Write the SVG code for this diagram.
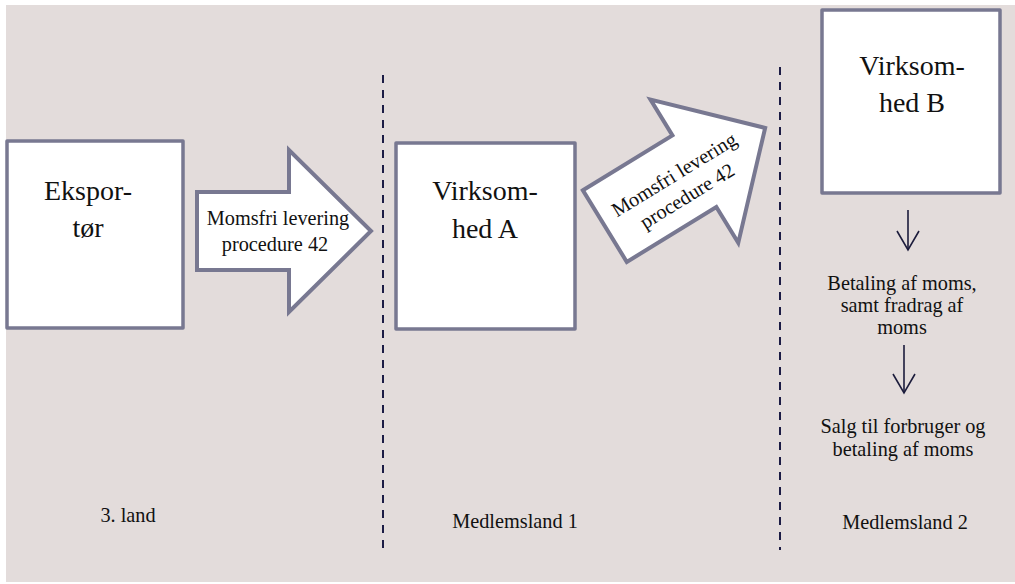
<svg xmlns="http://www.w3.org/2000/svg" width="1015" height="584" viewBox="0 0 1015 584">
<defs>
<style>
.box{fill:#ffffff;stroke:#787891;stroke-width:3.5;stroke-linejoin:round}
.arr{fill:#ffffff;stroke:#787891;stroke-width:4;stroke-linejoin:miter}
.big{font-family:'Liberation Serif','DejaVu Serif',serif;font-size:28px;fill:#111;text-anchor:middle}
.sm{font-family:'Liberation Serif','DejaVu Serif',serif;font-size:20.3px;fill:#111;text-anchor:middle}
.dash{stroke:#1c1c45;stroke-width:2;stroke-dasharray:8 7;fill:none}
.down{stroke:#1c1c3c;stroke-width:1.6;fill:none}
</style>
</defs>
<rect x="6" y="5" width="1009" height="577" fill="#e3dcdb"/>
<g id="connectors">
<line class="dash" x1="383" y1="75" x2="383" y2="548"/>
<line class="dash" x1="780" y1="67" x2="780" y2="550"/>
<line class="down" x1="908" y1="210" x2="908" y2="250"/>
<polyline class="down" points="897,231 908,250 919,231"/>
<line class="down" x1="904" y1="345" x2="904" y2="393"/>
<polyline class="down" points="893,374 904,393 915,374"/>
</g>
<g id="eksportor">
<rect class="box" x="7" y="141" width="176" height="187"/>
<text class="big" x="88" y="200">Ekspor-</text>
<text class="big" x="88" y="237">tør</text>
</g>
<g id="arrow1">
<polygon class="arr" points="197,192 289,192 289,150 371,231 289,312 289,270 197,270"/>
<text class="sm" x="278" y="225">Momsfri levering</text>
<text class="sm" x="275" y="251">procedure 42</text>
</g>
<g id="virksomhedA">
<rect class="box" x="396" y="143" width="179" height="186"/>
<text class="big" x="485" y="200">Virksom-</text>
<text class="big" x="485" y="238">hed A</text>
</g>
<g id="arrow2" transform="translate(685,177) rotate(-31.5)">
<polygon class="arr" points="-94,-42 11,-42 11,-84 94,0 11,84 11,42 -94,42"/>
<text class="sm" x="-8" y="-1">Momsfri levering</text>
<text class="sm" x="-8" y="24">procedure 42</text>
</g>
<g id="virksomhedB">
<rect class="box" x="822" y="10" width="178" height="183"/>
<text class="big" x="912" y="75">Virksom-</text>
<text class="big" x="912" y="112">hed B</text>
</g>
<g id="betaling">
<text class="sm" x="902" y="290">Betaling af moms,</text>
<text class="sm" x="902" y="312">samt fradrag af</text>
<text class="sm" x="902" y="334">moms</text>
</g>
<g id="salg">
<text class="sm" x="903" y="433">Salg til forbruger og</text>
<text class="sm" x="903" y="456">betaling af moms</text>
</g>
<g id="labels">
<text class="sm" x="128" y="522">3. land</text>
<text class="sm" x="515" y="528">Medlemsland 1</text>
<text class="sm" x="905" y="529">Medlemsland 2</text>
</g>
</svg>
